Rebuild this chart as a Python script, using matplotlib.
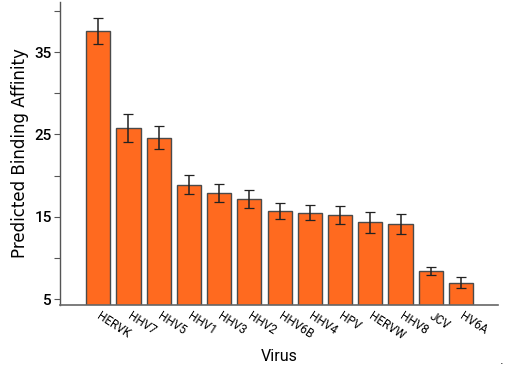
import numpy as np
import matplotlib
matplotlib.use("Agg")
import matplotlib.pyplot as plt

viruses = ["HERVK", "HHV7", "HHV5", "HHV1", "HHV3", "HHV2", "HHV6B",
           "HHV4", "HPV", "HERVW", "HHV8", "JCV", "HV6A"]
affinity = [37.55, 25.75, 24.6, 18.9, 17.9, 17.15, 15.7,
            15.5, 15.25, 14.3, 14.1, 8.4, 7.0]
err = [1.6, 1.7, 1.4, 1.2, 1.1, 1.1, 1.0,
       0.9, 1.1, 1.3, 1.2, 0.5, 0.7]
yticks = [5, 10, 15, 20, 25, 30, 35, 40]
yticklabels = ["5", "", "15", "", "25", "", "35", ""]

fig = plt.figure(figsize=(5.05, 3.68), dpi=100)
ax = fig.add_axes([0.119, 0.171, 0.867, 0.824])

x = np.arange(len(viruses))
ax.bar(x, affinity, width=0.8, color="#FF6A1F", edgecolor="#4a4a4a",
       linewidth=1.0, zorder=2)
ax.errorbar(x, affinity, yerr=err, fmt="none", ecolor="#222222",
            elinewidth=1.1, capsize=3.5, capthick=0.9, zorder=3)

ax.set_xlim(-1.26, 13.22)
ax.set_ylim(4.27, 41.1)

ax.set_yticks(yticks)
ax.set_yticklabels(yticklabels, fontsize=11, family="Roboto", weight="medium")
ax.set_xticks(x)
ax.set_xticklabels(viruses, rotation=-33, ha="left", va="center",
                   rotation_mode="anchor", fontsize=8.5, family="Roboto")
ax.tick_params(axis="x", length=0, pad=7)
ax.tick_params(axis="y", length=4, color="#555555", width=0.8, pad=2)

for s in ["top", "right"]:
    ax.spines[s].set_visible(False)
ax.spines["left"].set_color("#555555")
ax.spines["bottom"].set_color("#666666")
ax.spines["left"].set_linewidth(1.0)
ax.spines["bottom"].set_linewidth(1.2)

ax.set_ylabel("Predicted Binding Affinity", fontsize=12,
              family="DejaVu Sans", labelpad=4)
ax.set_xlabel("Virus", fontsize=11.5, family="Roboto", labelpad=5)

fig.text(0.994, 0.012, ".", fontsize=8, ha="center")

fig.savefig("out.png", dpi=100)
